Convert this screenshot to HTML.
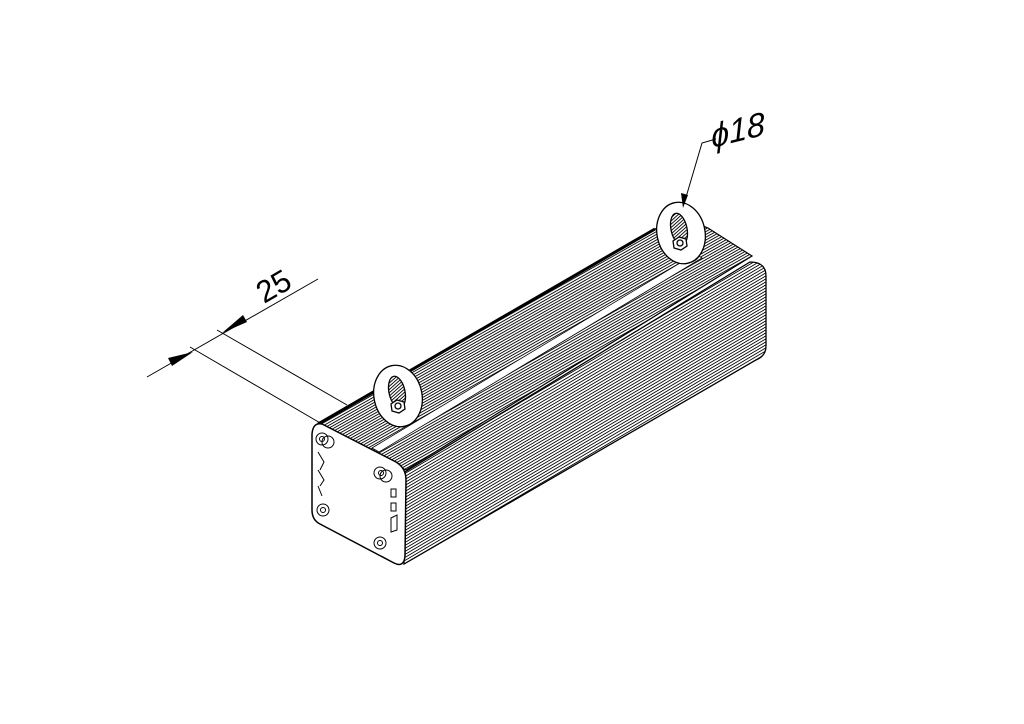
<!DOCTYPE html>
<html><head><meta charset="utf-8"><style>html,body{margin:0;padding:0;background:#fff}svg{display:block}</style></head>
<body>
<svg width="1024" height="724" viewBox="0 0 1024 724" xmlns="http://www.w3.org/2000/svg">
<defs>
<pattern id="st" patternUnits="userSpaceOnUse" width="20" height="3" patternTransform="skewY(-30.5)">
<line x1="0" y1="1" x2="20" y2="1" stroke="#000" stroke-width="1.1"/>
</pattern>
<pattern id="st2" patternUnits="userSpaceOnUse" width="20" height="2.8" patternTransform="skewY(-29.5)">
<line x1="0" y1="1" x2="20" y2="1" stroke="#000" stroke-width="1"/>
</pattern>
</defs>
<rect width="1024" height="724" fill="#fff"/>

<!-- top face -->
<path d="M318,424 L655,229 Q690,220 708,228 L752,256 L406,470 Z" fill="url(#st2)" stroke="#000" stroke-width="1.2"/>
<path d="M372,448 L695,254 L702,258 L379,452 Z" fill="#fff" stroke="#000" stroke-width="0.8"/>
<path d="M318,424 L655,229" stroke="#000" stroke-width="3"/>

<!-- side face -->
<path d="M405,472 L750,262 Q766,262 766,276 L766,346 Q766,356 756,360 L404,564 Z" fill="url(#st)" stroke="#000" stroke-width="1.3"/>

<!-- front plate -->
<path d="M322,424 L396,462 Q406,468 406,480 L405,556 Q404,568 394,563 L320,524 Q312,520 312,510 L312,434 Q313,422 322,424 Z" fill="#fff" stroke="#000" stroke-width="1.5"/>
<g fill="none" stroke="#000" stroke-width="1">
<circle cx="322" cy="439" r="6"/><circle cx="328" cy="442" r="6"/><circle cx="322" cy="439" r="2.5"/>
<circle cx="380" cy="473" r="6"/><circle cx="386" cy="476" r="6"/><circle cx="381" cy="473" r="2.5"/>
<circle cx="323" cy="510" r="6"/><circle cx="323" cy="510" r="2.5"/>
<circle cx="380" cy="543" r="6"/><circle cx="380" cy="543" r="2.5"/>
<path d="M318,452 L324,462 L320,470 M318,470 L324,480 L320,486 M318,486 L322,496"/>
<rect x="391" y="489" width="5" height="8"/><rect x="391" y="503" width="5" height="8"/><path d="M391,518 L397,515 L397,530 L391,532 Z"/>
</g>

<!-- eye bolts -->
<g stroke="#000" stroke-width="1.3">
<ellipse cx="402" cy="416" rx="14" ry="9" fill="#fff"/>
<ellipse cx="398" cy="396" rx="24" ry="31" transform="rotate(-12 398 396)" fill="#fff"/>
<ellipse cx="397" cy="392" rx="8" ry="16" transform="rotate(-12 397 392)" fill="url(#st2)"/>
<path d="M391,404 L397,400 L404,402 L405,409 L399,413 L392,411 Z" fill="#fff"/><circle cx="398" cy="406" r="3" fill="#fff"/>
<ellipse cx="685" cy="254" rx="14" ry="9" fill="#fff"/>
<ellipse cx="681" cy="233" rx="24" ry="31" transform="rotate(-12 681 233)" fill="#fff"/>
<ellipse cx="679" cy="229" rx="8" ry="16" transform="rotate(-12 679 229)" fill="url(#st2)"/>
<path d="M673,241 L679,237 L686,239 L687,246 L681,250 L674,248 Z" fill="#fff"/><circle cx="680" cy="243" r="3" fill="#fff"/>
</g>

<!-- dimension 25 -->
<g stroke="#000" stroke-width="1" fill="none">
<line x1="147" y1="377" x2="318" y2="279"/>
<line x1="190" y1="347" x2="322" y2="424"/>
<line x1="217" y1="330" x2="347" y2="405"/>
</g>
<path d="M193,352 L168,358 L172,366 Z" fill="#000"/>
<path d="M222,333 L247,322 L243,315 Z" fill="#000"/>
<text x="0" y="0" font-family="Liberation Sans, sans-serif" font-size="31" transform="translate(264,304) rotate(-30)">25</text>

<!-- phi 18 -->
<polyline points="684,204 702,143 716,139" fill="none" stroke="#000" stroke-width="1"/>
<path d="M683,208 L681,193 L688,195 Z" fill="#000"/>
<text x="0" y="0" font-family="Liberation Sans, sans-serif" font-style="italic" font-size="33" transform="translate(712,148) rotate(-14) skewX(-10)">ϕ18</text>
</svg>
</body></html>
